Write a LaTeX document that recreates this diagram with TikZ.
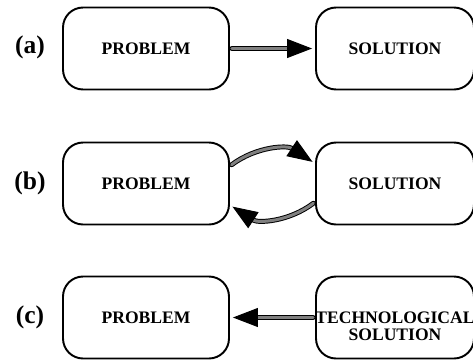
\documentclass[tikz,border=0pt]{standalone}
\usepackage{fontspec}
\setmainfont{Liberation Serif}
\usetikzlibrary{arrows.meta, positioning}

\tikzset{
  box/.style={rectangle, draw, line width=1.1pt, rounded corners=0.4cm, minimum height=1.64cm, font=\bfseries\fontsize{10}{9.5}\selectfont},
  probbox/.style={box, minimum width=3.32cm},
  solbox/.style={box, minimum width=3.16cm},
  tag/.style={font=\bfseries\fontsize{14.5}{17}\selectfont},
  flow/.style={line width=0.55pt, double=black!50, double distance=1.7pt, line cap=round, shorten >=0.06cm, shorten <=0.04cm, -{Triangle[length=0.5cm, width=0.38cm]}},
}

\begin{document}
\begin{tikzpicture}[x=0.02cm, y=0.02cm]
    \useasboundingbox (0,0) rectangle (473,360);

    % (a) problem -> solution
    \node[tag] (tagA) at (30,313) {(a)};
    \node[probbox] (probA) at (146,311.5) {PROBLEM};
    \node[solbox] (solA) at (395,311.5) {SOLUTION};
    \draw[flow] (probA.east) -- (solA.west);

    % (b) back and forth
    \node[tag] (tagB) at (30,177) {(b)};
    \node[probbox] (probB) at (146,176.5) {PROBLEM};
    \node[solbox] (solB) at (395,176.5) {SOLUTION};
    \draw[flow] ([yshift=0.35cm]probB.east) to[bend left=35] ([yshift=0.4cm]solB.west);
    \draw[flow] ([yshift=-0.37cm]solB.west) to[bend left=35] ([yshift=-0.43cm]probB.east);

    % (c) technology first
    \node[tag] (tagC) at (30,43) {(c)};
    \node[probbox] (probC) at (146,42.5) {PROBLEM};
    \node[solbox] (techC) at (395,42.5) {};
    \node[font=\bfseries\fontsize{10}{9.5}\selectfont, align=center] (techTxt) at (395,34) {TECHNOLOGICAL\\SOLUTION};
    \draw[flow] (techC.west) -- (probC.east);
\end{tikzpicture}
\end{document}
